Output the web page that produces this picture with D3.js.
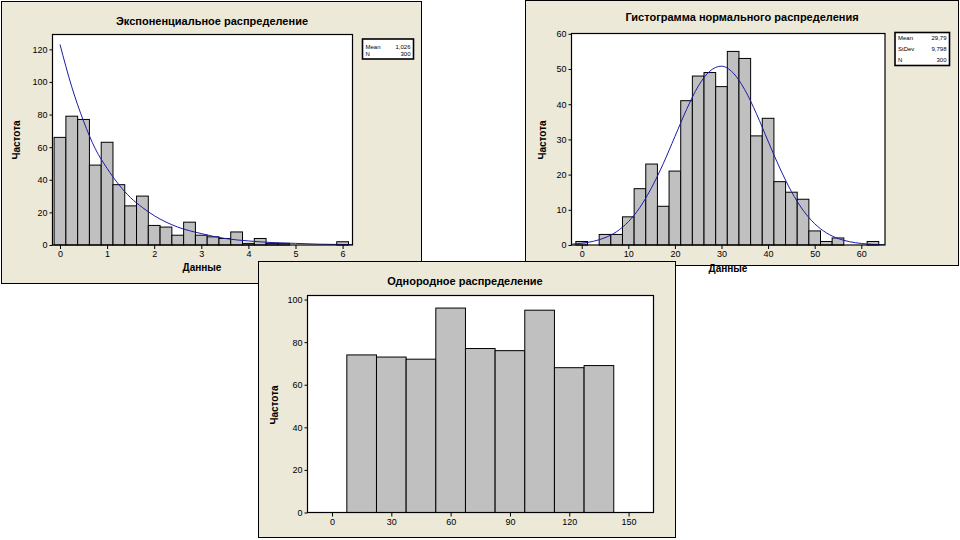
<!DOCTYPE html>
<html><head><meta charset="utf-8">
<script src="https://cdn.jsdelivr.net/npm/d3@7"></script>
<style>
body{margin:0;background:#fff}
svg{display:block}
text{font-family:Tahoma,"Liberation Sans",Arial,sans-serif;fill:#000}
</style>
</head><body>
<svg id="c" width="960" height="540"></svg>
<script>
// ---------- DATA ----------
// Exponential histogram
const expBinCenters = [0,0.25,0.5,0.75,1,1.25,1.5,1.75,2,2.25,2.5,2.75,3,3.25,3.5,3.75,4,4.25,4.5,4.75,5,5.25,5.5,5.75,6];
const expCounts     = [66,79,77,49,63,37,24,30,12,11,6,14,6,5,4,8,1,4,1,1,0,0,0,0,2];
const expCurveX = [0,0.25,0.5,0.75,1,1.25,1.5,1.75,2,2.5,3,3.5,4,4.5,5,5.5,6,6.2];
const expCurveY = [123,97,76,59,47,37,29,23,18,11,7,4,2.5,1.5,1,0.5,0.3,0.2];
const expXTicks = [0,1,2,3,4,5,6];
const expYTicks = [0,20,40,60,80,100,120];
const expLegend = [["Mean","1,026"],["N","300"]];

// Normal histogram
const normBinCenters = [0,2.5,5,7.5,10,12.5,15,17.5,20,22.5,25,27.5,30,32.5,35,37.5,40,42.5,45,47.5,50,52.5,55,57.5,60,62.5];
const normCounts     = [1,0,3,3,8,16,23,11,21,41,48,49,45,55,53,31,36,18,15,13,4,1,2,0,0,1];
const normCurveX = [-2,0,2.5,5,7.5,10,12.5,15,17.5,20,22.5,25,27.5,30,32.5,35,37.5,40,42.5,45,47.5,50,52.5,55,57.5,60,62.5,65];
const normCurveY = [0.26,0.5,1.05,2.07,3.8,6.6,10.7,16.3,23.1,30.8,38.5,45.1,49.4,50.8,48.9,44.1,37.3,29.5,21.9,15.2,9.9,6.05,3.46,1.85,0.93,0.44,0.19,0.08];
const normXTicks = [0,10,20,30,40,50,60];
const normYTicks = [0,10,20,30,40,50,60];
const normLegend = [["Mean","29,79"],["StDev","9,798"],["N","300"]];

// Uniform histogram
const uniBinCenters = [15,30,45,60,75,90,105,120,135];
const uniCounts     = [74,73,72,96,77,76,95,68,69];
const uniXTicks = [0,30,60,90,120,150];
const uniYTicks = [0,20,40,60,80,100];

// ---------- DRAWING ----------
const svg = d3.select("#c");
const BG = "#ECE9D8";
const BAR = "#C0C0C0";
const CURVE = "#1c1ca8";
let clipId = 0;

function panel(o){
  const g = svg.append("g");
  g.append("rect").attr("x",o.frame[0]).attr("y",o.frame[1])
    .attr("width",o.frame[2]-o.frame[0]).attr("height",o.frame[3]-o.frame[1])
    .attr("fill",BG).attr("stroke","#000").attr("stroke-width",1);

  const x = d3.scaleLinear().domain(o.xDomain).range([o.plot[0],o.plot[2]]);
  const y = d3.scaleLinear().domain(o.yDomain).range([o.plot[3],o.plot[1]]);

  g.append("rect").attr("x",o.plot[0]).attr("y",o.plot[1])
    .attr("width",o.plot[2]-o.plot[0]).attr("height",o.plot[3]-o.plot[1])
    .attr("fill","#fff");

  const id = "clip"+(clipId++);
  g.append("clipPath").attr("id",id).append("rect")
    .attr("x",o.plot[0]).attr("y",o.plot[1])
    .attr("width",o.plot[2]-o.plot[0]).attr("height",o.plot[3]-o.plot[1]);

  const data = o.centers.map((c,i)=>({c, v:o.counts[i]})).filter(d=>d.v>0);
  g.append("g").selectAll("rect").data(data).join("rect")
    .attr("x",d=>x(d.c-o.binW/2)).attr("width",d=>x(d.c+o.binW/2)-x(d.c-o.binW/2))
    .attr("y",d=>y(d.v)).attr("height",d=>y(0)-y(d.v))
    .attr("fill",BAR).attr("stroke","#000").attr("stroke-width",1);

  if(o.curveX){
    const pts = o.curveX.map((cx,i)=>[cx,o.curveY[i]]);
    g.append("path").attr("clip-path",`url(#${id})`)
      .attr("d",d3.line().x(d=>x(d[0])).y(d=>y(d[1])).curve(d3.curveMonotoneX)(pts))
      .attr("fill","none").attr("stroke",CURVE).attr("stroke-width",1);
  }

  g.append("rect").attr("x",o.plot[0]).attr("y",o.plot[1])
    .attr("width",o.plot[2]-o.plot[0]).attr("height",o.plot[3]-o.plot[1])
    .attr("fill","none").attr("stroke","#000").attr("stroke-width",1.2);

  const ax = g.append("g").attr("transform",`translate(0,${o.plot[3]})`)
    .call(d3.axisBottom(x).tickValues(o.xTicks).tickSize(4).tickPadding(2).tickFormat(d3.format("d")));
  const ay = g.append("g").attr("transform",`translate(${o.plot[0]},0)`)
    .call(d3.axisLeft(y).tickValues(o.yTicks).tickSize(3).tickPadding(2).tickFormat(d3.format("d")));
  [ax,ay].forEach(a=>{
    a.select(".domain").remove();
    a.selectAll("text").attr("font-size",9).attr("font-family",'Tahoma,"Liberation Sans",Arial,sans-serif').attr("fill","#000");
    a.selectAll("line").attr("stroke","#000");
  });

  g.append("text").attr("x",o.title[1]).attr("y",o.title[2]).attr("text-anchor","middle")
    .attr("font-size",11).attr("font-weight","bold").text(o.title[0]);
  g.append("text").attr("transform",`translate(${o.ylab[0]},${o.ylab[1]}) rotate(-90)`)
    .attr("text-anchor","middle").attr("font-size",10).attr("font-weight","bold").text("Частота");
  if(o.xlab){
    g.append("text").attr("x",o.xlab[0]).attr("y",o.xlab[1]).attr("text-anchor","middle")
      .attr("font-size",10).attr("font-weight","bold").text("Данные");
  }
  if(o.legend){
    const L = o.legendBox;
    g.append("rect").attr("x",L[0]).attr("y",L[1]).attr("width",L[2]-L[0]).attr("height",L[3]-L[1])
      .attr("fill","#fff").attr("stroke","#000").attr("stroke-width",1.6);
    o.legend.forEach((r,i)=>{
      g.append("text").attr("x",L[0]+3).attr("y",L[4]+i*L[5]).attr("font-size",6).text(r[0]);
      g.append("text").attr("x",L[2]-3).attr("y",L[4]+i*L[5]).attr("font-size",6).attr("text-anchor","end").text(r[1]);
    });
  }
}

panel({
  frame:[525.5,0.5,958.5,265.5], plot:[571.5,33.5,885,245],
  xDomain:[-2.19,65.09], yDomain:[0,60.09],
  centers:normBinCenters, counts:normCounts, binW:2.5,
  curveX:normCurveX, curveY:normCurveY,
  xTicks:normXTicks, yTicks:normYTicks,
  title:["Гистограмма нормального распределения",742,21],
  ylab:[546,140], xlab:[728,272],
  legend:normLegend, legendBox:[895,32.5,949.5,65.5,40,11]
});

panel({
  frame:[1.5,1.5,421.5,283.5], plot:[52.5,34.5,352.5,245],
  xDomain:[-0.159,6.21], yDomain:[0,129.1],
  centers:expBinCenters, counts:expCounts, binW:0.25,
  curveX:expCurveX, curveY:expCurveY,
  xTicks:expXTicks, yTicks:expYTicks,
  title:["Экспоненциальное распределение",212,25],
  ylab:[20,140], xlab:[202,271],
  legend:expLegend, legendBox:[362.5,39,413.5,59,48.5,7.5]
});

panel({
  frame:[258.5,261.5,675.5,537.5], plot:[307.5,295.5,653.5,512.5],
  xDomain:[-12.39,162.6], yDomain:[0,101.9],
  centers:uniBinCenters, counts:uniCounts, binW:15,
  xTicks:uniXTicks, yTicks:uniYTicks,
  title:["Однородное распределение",465,285],
  ylab:[278,405]
});
</script>
</body></html>
